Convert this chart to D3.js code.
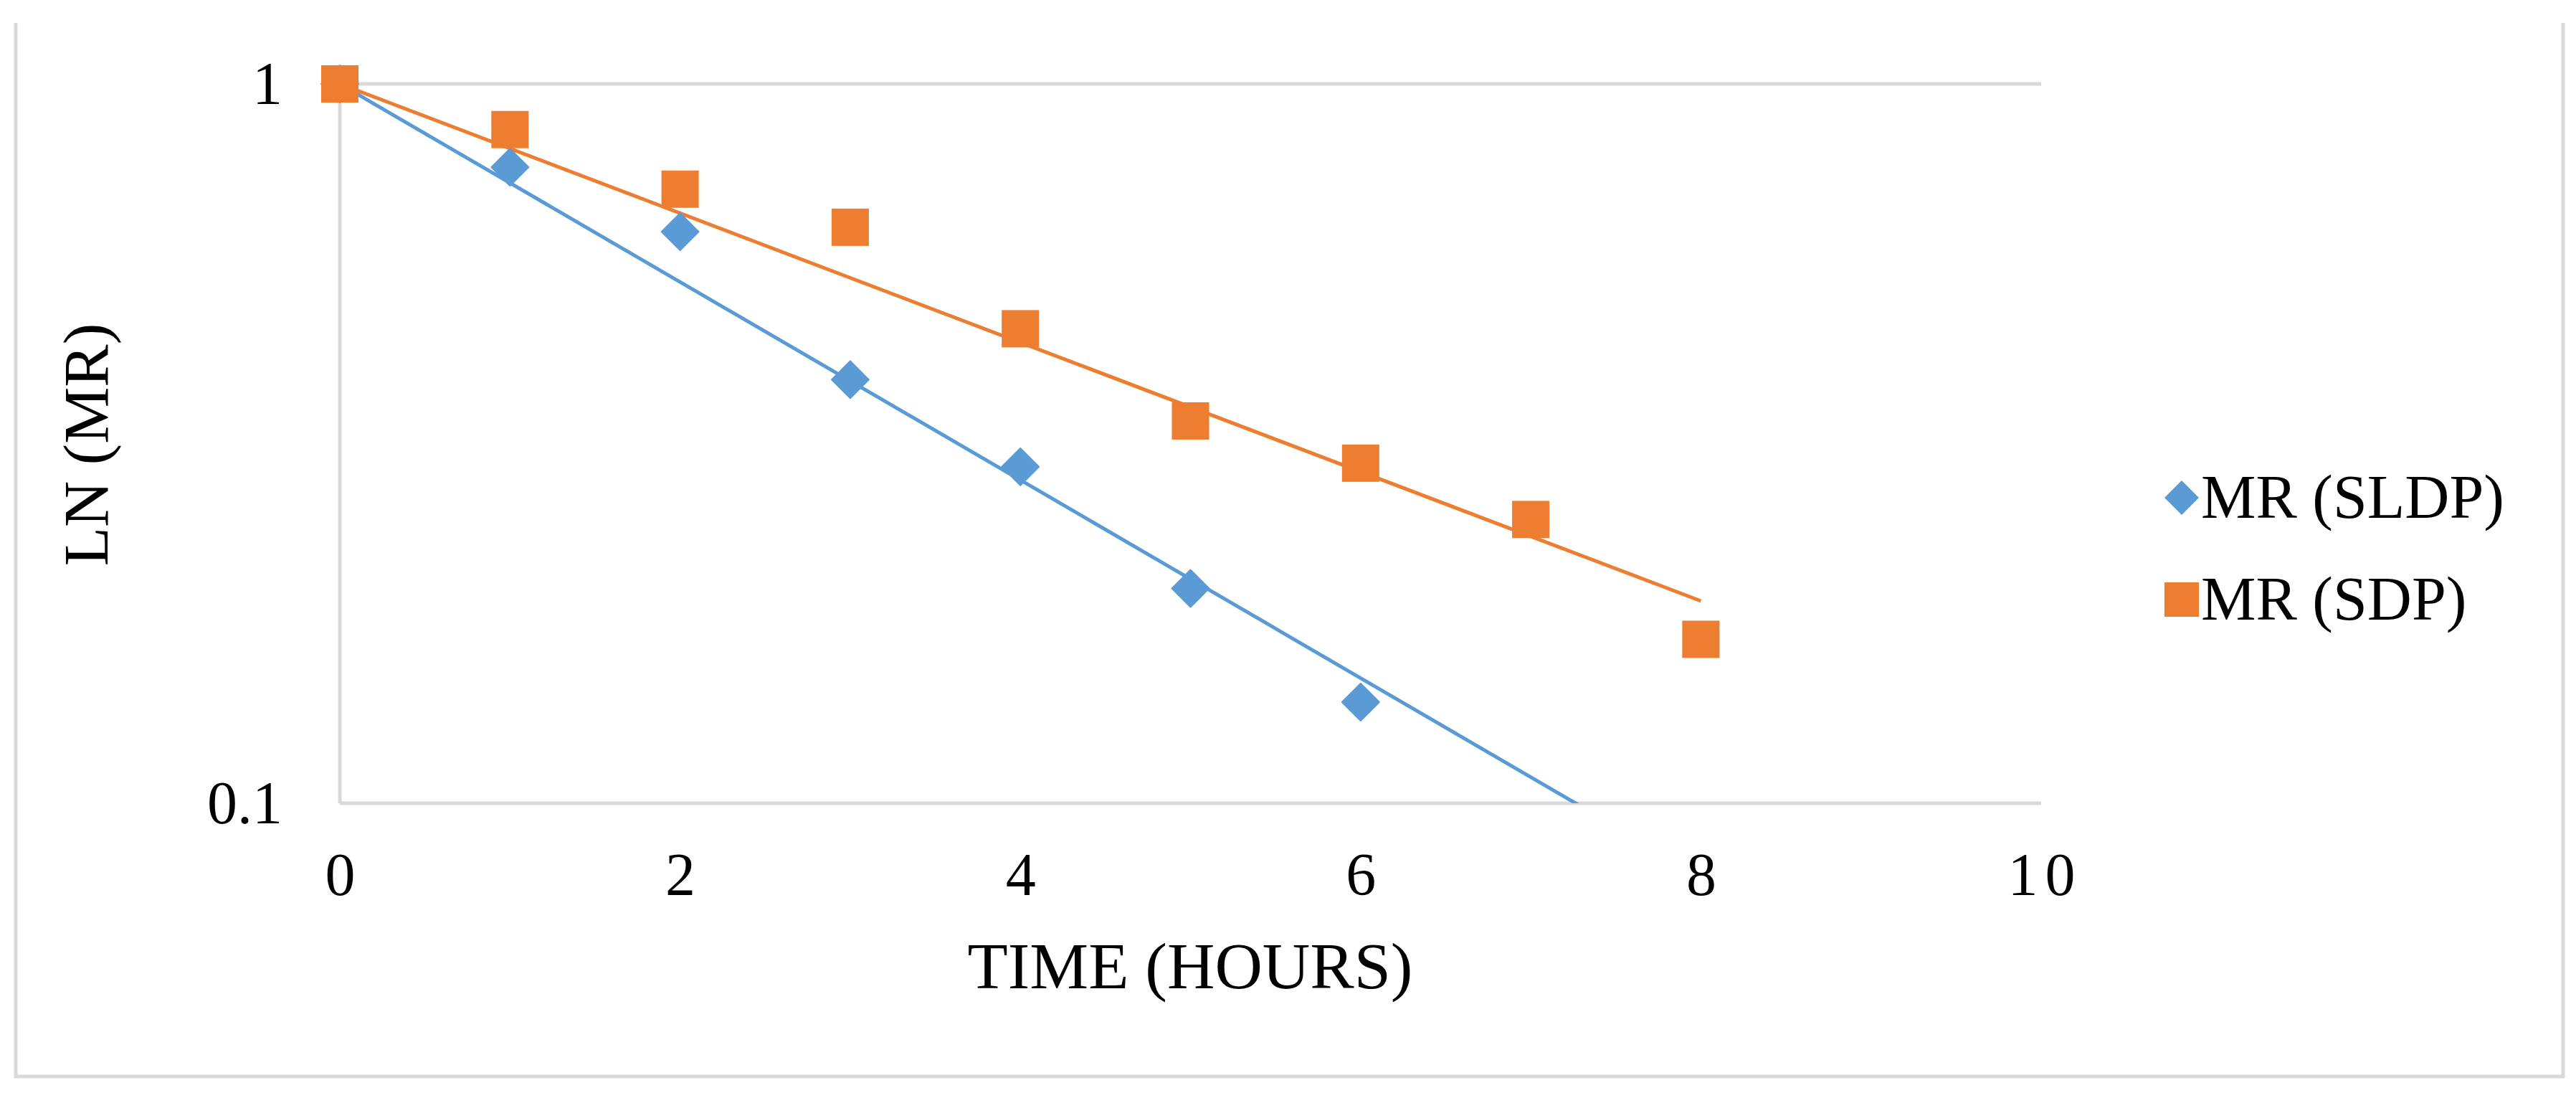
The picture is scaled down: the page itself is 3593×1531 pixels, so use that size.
<!DOCTYPE html>
<html>
<head>
<meta charset="utf-8">
<script src="https://cdn.jsdelivr.net/npm/d3@7"></script>
<style>
  html, body { margin: 0; padding: 0; background: #fff; }
  svg { display: block; }
  text { font-family: "Liberation Serif", "Times New Roman", serif; fill: #000; }
</style>
</head>
<body>
<svg id="chart" width="3593" height="1531"></svg>
<script>
// ---- data ----
const timeHours = [0, 1, 2, 3, 4, 5, 6, 7, 8];
const mrSLDP = [1.0, 0.766, 0.623, 0.388, 0.2936, 0.1989, 0.1382];
const mrSDP  = [1.0, 0.864, 0.714, 0.632, 0.4567, 0.340, 0.297, 0.248, 0.169];
const seriesNames = ["MR (SLDP)", "MR (SDP)"];
const xTicks = [0, 2, 4, 6, 8, 10];
const yTicks = [0.1, 1];
// exponential trendlines y = a * exp(b * x), over [from, to]
const trendSLDP = { a: 1.0, b: -0.317, from: 0, to: 8 };
const trendSDP  = { a: 1.0, b: -0.2069, from: 0, to: 8 };

// ---- layout ----
const W = 3593, H = 1531;
const plot = { left: 474, right: 2847, top: 117, bottom: 1120 };
const blue = "#5B9BD5", orange = "#ED7D31", grid = "#D9D9D9";

const svg = d3.select("#chart");
svg.append("rect").attr("width", W).attr("height", H).attr("fill", "#fff");

// outer frame (left, bottom, right)
svg.append("path")
  .attr("d", `M22,32 L22,1501 L3575,1501 L3575,32`)
  .attr("fill", "none").attr("stroke", grid).attr("stroke-width", 5);

const x = d3.scaleLinear().domain([0, 10]).range([plot.left, plot.right]);
const y = d3.scaleLog().domain([0.1, 1]).range([plot.bottom, plot.top]);

// gridlines
svg.append("g").selectAll("line").data(yTicks).join("line")
  .attr("x1", plot.left).attr("x2", plot.right)
  .attr("y1", d => y(d)).attr("y2", d => y(d))
  .attr("stroke", grid).attr("stroke-width", 5);

// vertical axis line
svg.append("line")
  .attr("x1", x(0)).attr("x2", x(0))
  .attr("y1", plot.top).attr("y2", plot.bottom)
  .attr("stroke", grid).attr("stroke-width", 5);

// x axis tick labels
const xAxis = d3.axisBottom(x).tickValues(xTicks).tickSize(0).tickPadding(0)
  .tickFormat(d => String(d));
const gx = svg.append("g").attr("transform", `translate(0,${plot.bottom})`).call(xAxis);
gx.select(".domain").remove();
gx.selectAll("text")
  .attr("y", 128).attr("dy", 0)
  .style("font-family", '"Liberation Serif", "Times New Roman", serif')
  .style("font-size", "84px").attr("fill", "#000")
  .style("letter-spacing", d => d === 10 ? "10px" : null)
  .attr("dx", d => d === 10 ? 5 : 0);

// y axis tick labels
const yAxis = d3.axisLeft(y).tickValues(yTicks).tickSize(0).tickPadding(0)
  .tickFormat(d => d === 1 ? "1" : "0.1");
const gy = svg.append("g").attr("transform", `translate(${plot.left},0)`).call(yAxis);
gy.select(".domain").remove();
gy.selectAll("text")
  .attr("x", -80).attr("dy", "0.33em")
  .style("font-family", '"Liberation Serif", "Times New Roman", serif')
  .style("font-size", "84px").attr("fill", "#000");

// axis titles
svg.append("text")
  .attr("x", 1660).attr("y", 1378)
  .attr("text-anchor", "middle")
  .style("font-size", "92px")
  .text("TIME (HOURS)");
svg.append("text")
  .attr("transform", `translate(150,620) rotate(-90)`)
  .attr("text-anchor", "middle")
  .style("font-size", "89px")
  .text("LN (MR)");

// clip for trendlines
svg.append("clipPath").attr("id", "plotclip")
  .append("rect")
  .attr("x", plot.left).attr("y", plot.top - 5)
  .attr("width", plot.right - plot.left).attr("height", plot.bottom - plot.top + 5);

const line = d3.line().x(d => x(d[0])).y(d => y(d[1]));
function trendPts(t) {
  // two endpoints suffice: exponential is straight on log scale
  return [t.from, t.to].map(v => [v, t.a * Math.exp(t.b * v)]);
}
const trends = svg.append("g").attr("clip-path", "url(#plotclip)");
trends.append("path").datum(trendPts(trendSLDP))
  .attr("d", line).attr("fill", "none").attr("stroke", blue).attr("stroke-width", 5);
trends.append("path").datum(trendPts(trendSDP))
  .attr("d", line).attr("fill", "none").attr("stroke", orange).attr("stroke-width", 5);

// markers
const sq = 52;
const diamond = 52;
svg.append("g").selectAll("path")
  .data(mrSLDP.map((v, i) => [timeHours[i], v])).join("path")
  .attr("d", d => {
    const cx = x(d[0]), cy = y(d[1]), r = diamond / 2;
    return `M${cx},${cy - r} L${cx + r},${cy} L${cx},${cy + r} L${cx - r},${cy} Z`;
  })
  .attr("fill", blue).attr("stroke", blue).attr("stroke-width", 2).attr("stroke-linejoin", "round");

svg.append("g").selectAll("rect")
  .data(mrSDP.map((v, i) => [timeHours[i], v])).join("rect")
  .attr("x", d => x(d[0]) - sq / 2).attr("y", d => y(d[1]) - sq / 2)
  .attr("width", sq).attr("height", sq)
  .attr("fill", orange);

// legend
const legend = svg.append("g");
const legY = [694, 836];
const lgx = 3043, lsz = 48;
legend.append("path")
  .attr("d", `M${lgx},${legY[0] - lsz/2} L${lgx + lsz/2},${legY[0]} L${lgx},${legY[0] + lsz/2} L${lgx - lsz/2},${legY[0]} Z`)
  .attr("fill", blue);
legend.append("rect")
  .attr("x", lgx - lsz/2).attr("y", legY[1] - lsz/2).attr("width", lsz).attr("height", lsz)
  .attr("fill", orange);
legend.selectAll("text").data(seriesNames).join("text")
  .attr("x", 3070).attr("y", (d, i) => legY[i]).attr("dy", "0.33em")
  .style("font-size", "86px")
  .text(d => d);
</script>
</body>
</html>
